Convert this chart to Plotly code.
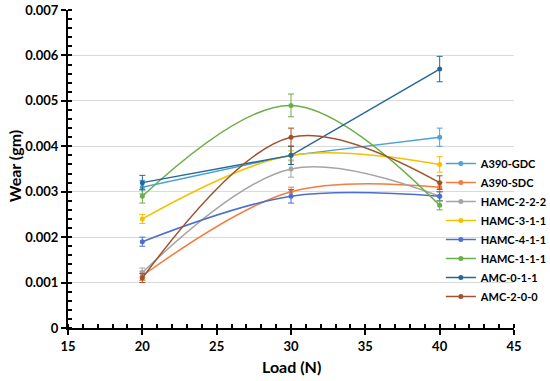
import plotly.graph_objects as go

loads = [20, 30, 40]

series_names = ["A390-GDC", "A390-SDC", "HAMC-2-2-2", "HAMC-3-1-1",
                "HAMC-4-1-1", "HAMC-1-1-1", "AMC-0-1-1", "AMC-2-0-0"]

a390_gdc = [0.0031, 0.0038, 0.0042]
a390_sdc = [0.00115, 0.0030, 0.0031]
hamc_222 = [0.00122, 0.0035, 0.0029]
hamc_311 = [0.0024, 0.0038, 0.0036]
hamc_411 = [0.0019, 0.0029, 0.0029]
hamc_111 = [0.0029, 0.0049, 0.0027]
amc_011 = [0.0032, 0.0038, 0.0057]
amc_200 = [0.0011, 0.0042, 0.0032]

err_a390_gdc = [0.00015, 0.0002, 0.0002]
err_a390_sdc = [0.0001, 0.0001, 0.0001]
err_hamc_222 = [0.0001, 0.00018, 0.0001]
err_hamc_311 = [0.0001, 0.0001, 0.00017]
err_hamc_411 = [0.0001, 0.00015, 0.0001]
err_hamc_111 = [0.00015, 0.00025, 0.0001]
err_amc_011 = [0.00016, 0.0002, 0.00028]
err_amc_200 = [0.0001, 0.0002, 0.00015]

y_tickvals = [0, 0.001, 0.002, 0.003, 0.004, 0.005, 0.006, 0.007]
y_ticktext = ["0", "0.001", "0.002", "0.003", "0.004", "0.005", "0.006", "0.007"]
x_tickvals = [15, 20, 25, 30, 35, 40, 45]

values = [a390_gdc, a390_sdc, hamc_222, hamc_311, hamc_411, hamc_111, amc_011, amc_200]
errors = [err_a390_gdc, err_a390_sdc, err_hamc_222, err_hamc_311, err_hamc_411,
          err_hamc_111, err_amc_011, err_amc_200]
colors = ["#4BA3D6", "#F47C3C", "#A5A5A5", "#F2C200", "#4A6FD0", "#6AAE45", "#24689A", "#A0522D"]
shapes = ["linear", "spline", "spline", "spline", "spline", "spline", "linear", "spline"]

fig = go.Figure()
for name, v, e, c, s in zip(series_names, values, errors, colors, shapes):
    fig.add_trace(go.Scatter(
        x=loads, y=v, name=name, mode="lines+markers",
        line=dict(color=c, width=1.5, shape=s, smoothing=1.0),
        marker=dict(color=c, size=5),
        error_y=dict(type="data", array=e, visible=True, color=c, thickness=1, width=3),
    ))

font_family = "Lato, 'Open Sans', sans-serif"
fig.update_layout(
    width=550, height=381,
    margin=dict(l=68, r=36, t=10, b=53, autoexpand=False),
    paper_bgcolor="white", plot_bgcolor="white",
    font=dict(family=font_family, color="black"),
    showlegend=True,
    legend=dict(x=0.836, y=0.563, xanchor="left", yanchor="top",
                bgcolor="rgba(0,0,0,0)", font=dict(size=11, family=font_family, color="black", weight="bold"),
                tracegroupgap=0),
    xaxis=dict(
        range=[15, 45], tickvals=x_tickvals, showgrid=False, zeroline=False,
        showline=True, linecolor="black", linewidth=2,
        ticks="outside", ticklen=5, tickwidth=2, tickcolor="black",
        tickfont=dict(size=13, weight="bold"), automargin=False,
        minor=dict(dtick=1, ticks="inside", ticklen=4, tickwidth=1.5, tickcolor="black", showgrid=False),
    ),
    yaxis=dict(
        range=[0, 0.007], tickvals=y_tickvals, ticktext=y_ticktext,
        showgrid=True, gridcolor="#DADADA", gridwidth=1, zeroline=False,
        showline=True, linecolor="black", linewidth=2,
        ticks="outside", ticklen=5, tickwidth=2, tickcolor="black",
        tickfont=dict(size=13, weight="bold"), automargin=False,
        minor=dict(dtick=0.0002, ticks="inside", ticklen=4, tickwidth=1.5, tickcolor="black", showgrid=False),
    ),
    annotations=[
        dict(text="Load (N)", xref="paper", yref="paper", x=0.502, y=-0.12,
             xanchor="center", yanchor="middle", showarrow=False,
             font=dict(size=16, weight="bold", family=font_family, color="black")),
        dict(text="Wear (gm)", xref="paper", yref="paper", x=-0.121, y=0.509,
             xanchor="center", yanchor="middle", showarrow=False, textangle=-90,
             font=dict(size=16, weight="bold", family=font_family, color="black")),
    ],
)

fig.write_html("out.html", config={"displayModeBar": False},
               post_script="document.body.style.margin='0';")
